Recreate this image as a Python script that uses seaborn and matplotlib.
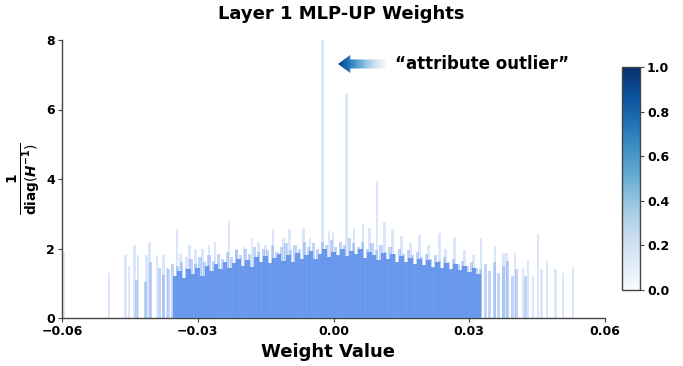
import numpy as np
import matplotlib
matplotlib.use("Agg")
import matplotlib.pyplot as plt
import seaborn as sns
from matplotlib.patches import FancyArrow
from matplotlib.cm import ScalarMappable
from matplotlib.colors import Normalize

# dense core of the weight distribution (step 0.001)
core_x = np.round(np.arange(-0.035, 0.0325, 0.001), 4)
core_h = [1.20, 1.35, 1.15, 1.40, 1.28, 1.45, 1.22, 1.50, 1.35, 1.55,
          1.40, 1.62, 1.45, 1.58, 1.70, 1.50, 1.66, 1.48, 1.75, 1.60,
          1.78, 1.58, 1.72, 1.85, 1.65, 1.80, 1.62, 1.88, 1.70, 1.82,
          1.92, 1.70, 1.85, 1.98, 1.75, 1.90, 1.80, 2.00, 1.78, 1.93,
          1.85, 1.98, 1.72, 1.90, 1.80, 1.68, 1.86, 1.70, 1.84, 1.62,
          1.78, 1.60, 1.72, 1.55, 1.70, 1.52, 1.66, 1.48, 1.62, 1.45,
          1.58, 1.40, 1.55, 1.38, 1.50, 1.32, 1.45, 1.28]

# half-transparent layer, offset by half a step
mid_x = np.round(np.arange(-0.0445, 0.0436, 0.001), 4)
mid_h = [0, 1.1, 0, 1.05, 1.6, 0, 1.45, 1.25, 1.4, 1.55,
         1.5, 1.6, 1.45, 1.7, 1.55, 1.75, 1.6, 1.8, 1.65, 1.85,
         1.7, 1.9, 1.75, 1.95, 1.8, 2.0, 1.85, 2.05, 1.9, 2.0,
         1.95, 2.1, 1.9, 2.05, 2.15, 1.95, 2.1, 2.0, 2.2, 2.05,
         2.15, 2.0, 2.2, 2.1, 2.25, 2.05, 2.2, 2.1, 2.3, 2.15,
         2.05, 2.2, 2.0, 2.15, 1.95, 2.1, 1.9, 2.05, 1.85, 2.0,
         1.85, 1.95, 1.8, 1.9, 1.75, 1.85, 1.7, 1.8, 1.65, 1.75,
         1.6, 1.7, 1.55, 1.65, 1.5, 1.6, 1.45, 1.4, 1.55, 1.35,
         1.6, 1.3, 1.5, 1.65, 1.2, 1.4, 0, 1.2, 0]

# faint individual bars, including the outliers
spike_x = [-0.0596, -0.0496, -0.0459, -0.0452, -0.0439, -0.0432, -0.0414, -0.0407,
           -0.0390, -0.0375, -0.0368, -0.0346, -0.0338, -0.0325, -0.0318, -0.0305,
           -0.0290, -0.0275, -0.0262, -0.0231, -0.0215, -0.0198, -0.0180, -0.0165,
           -0.0150, -0.0134, -0.0110, -0.0098, -0.0067, -0.0052, -0.0025, -0.0010,
           -0.0001, 0.0028, 0.0045, 0.0065, 0.0080, 0.0096, 0.0112, 0.0130,
           0.0150, 0.0170, 0.0190, 0.0210, 0.0235, 0.0248, 0.0268, 0.0290,
           0.0310, 0.0326, 0.0357, 0.0375, 0.0383, 0.0401, 0.0419, 0.0430,
           0.0441, 0.0452, 0.0460, 0.0472, 0.0490, 0.0507, 0.0529]
spike_h = [1.9, 1.3, 1.8, 1.5, 2.1, 1.8, 1.8, 2.2,
           1.8, 1.8, 1.45, 2.55, 1.85, 1.75, 2.1, 2.0,
           2.0, 2.1, 2.2, 2.8, 2.0, 2.05, 2.3, 2.2,
           2.1, 2.55, 2.3, 2.55, 2.6, 2.3, 8.0, 2.5,
           2.45, 6.45, 2.6, 2.7, 2.6, 3.95, 2.75, 2.55,
           2.35, 2.15, 2.4, 2.1, 2.45, 2.0, 2.3, 1.95,
           1.8, 2.3, 2.07, 1.87, 1.87, 1.87, 1.45, 1.64,
           1.2, 2.41, 1.4, 1.64, 1.4, 1.3, 1.47]

xticks = [-0.06, -0.03, 0.0, 0.03, 0.06]
yticks = [0, 2, 4, 6, 8]
bar_color = "#6495ED"

sns.set_theme(style="ticks")
plt.rcParams["font.family"] = ["DejaVu Sans"]
plt.rcParams["mathtext.fontset"] = "dejavusans"
plt.rcParams["text.color"] = "black"
plt.rcParams["xtick.labelcolor"] = "black"
plt.rcParams["ytick.labelcolor"] = "black"

fig = plt.figure(figsize=(6.83, 3.66), dpi=100)
ax = fig.add_axes([62 / 683, 48 / 366, 543 / 683, 278 / 366])

ax.bar(spike_x, spike_h, width=0.0006, color=bar_color, alpha=0.22, linewidth=0, zorder=1)
sns.barplot(x=mid_x, y=mid_h, native_scale=True, color=bar_color, width=0.7,
            alpha=0.4, linewidth=0, saturation=1, ax=ax, zorder=2)
sns.barplot(x=core_x, y=core_h, native_scale=True, color=bar_color, width=1.0,
            alpha=0.95, linewidth=0, saturation=1, ax=ax, zorder=3)

ax.set_xlim(-0.06, 0.06)
ax.set_ylim(0, 8)
ax.set_xticks(xticks)
ax.set_xticklabels([f"{t:.2f}".replace("-", "\u2212") for t in xticks])
ax.set_yticks(yticks)
ax.set_xlabel("")
ax.set_ylabel("")
sns.despine(ax=ax)
for s in ["left", "bottom"]:
    ax.spines[s].set_color("#444444")
    ax.spines[s].set_linewidth(1.0)
ax.tick_params(labelsize=9, length=3, width=0.8, color="#444444", pad=2)
for lab in ax.get_xticklabels() + ax.get_yticklabels():
    lab.set_fontweight("bold")

# gradient arrow pointing at the outlier
arrow = FancyArrow(0.0116, 7.31, -0.0106, 0, width=0.26, head_width=0.52,
                   head_length=0.0027, length_includes_head=True,
                   facecolor="none", edgecolor="none", transform=ax.transData)
ax.add_patch(arrow)
grad = np.linspace(0.95, 0.0, 256).reshape(1, -1)
im = ax.imshow(grad, extent=[0.0010, 0.0116, 7.0, 7.6], cmap="Blues", vmin=0, vmax=1,
               aspect="auto", zorder=5)
im.set_clip_path(arrow)
ax.set_xlim(-0.06, 0.06)
ax.set_ylim(0, 8)

ax.text(0.0136, 7.31, "\u201cattribute outlier\u201d", fontsize=12, fontweight="bold",
        va="center", ha="left", zorder=6)

fig.text(341 / 683, 1 - 14 / 366, "Layer 1 MLP-UP Weights", fontsize=13,
         fontweight="bold", ha="center", va="center")
fig.text(328 / 683, 1 - 352 / 366, "Weight Value", fontsize=13,
         fontweight="bold", ha="center", va="center")
fig.text(24 / 683, 1 - 179 / 366,
         r"$\frac{\mathbf{1}}{\mathbf{diag}(\mathbfit{H}^{\mathbf{-1}})}$",
         fontsize=14, rotation=90, ha="center", va="center")

# colorbar
cax = fig.add_axes([622 / 683, 76 / 366, 18 / 683, 223 / 366])
cb = fig.colorbar(ScalarMappable(norm=Normalize(0, 1), cmap="Blues"), cax=cax)
cb.set_ticks([0.0, 0.2, 0.4, 0.6, 0.8, 1.0])
cb.outline.set_edgecolor("#444444")
cb.outline.set_linewidth(1.0)
cax.tick_params(labelsize=9, length=3, width=0.8, color="#444444", pad=2)
for lab in cax.get_yticklabels():
    lab.set_fontweight("bold")

fig.savefig("out.png", dpi=100)
